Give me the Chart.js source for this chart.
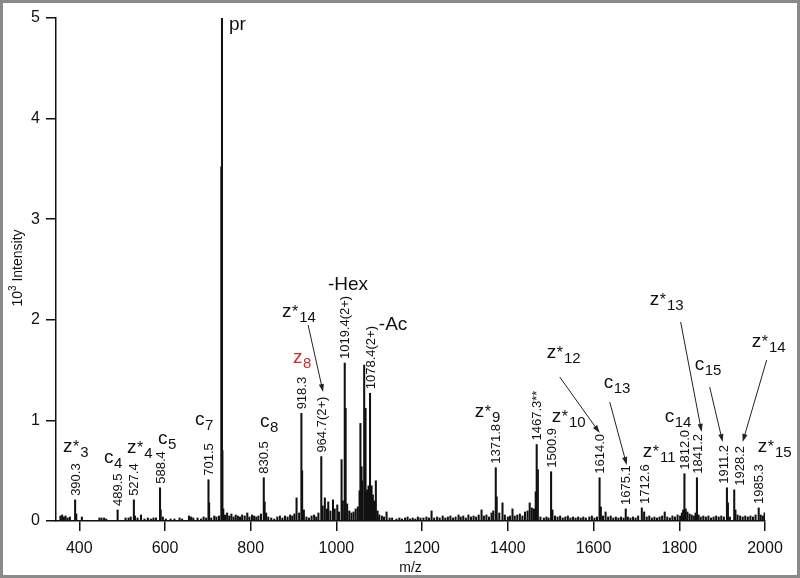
<!DOCTYPE html>
<html>
<head>
<meta charset="utf-8">
<script src="https://cdn.jsdelivr.net/npm/chart.js@4.4.1/dist/chart.umd.min.js"></script>
<style>
    html, body { margin: 0; padding: 0; background: #fff; }
</style>
</head>
<body>
<canvas id="spectrumChart" width="800" height="578"></canvas>
<script>
// Axis ticks
const xTicks = [400, 600, 800, 1000, 1200, 1400, 1600, 1800, 2000];
const yTicks = [0, 1, 2, 3, 4, 5];

// Labelled peaks (m/z, 10^3 intensity, printed label)
const labelledMz = [390.3, 489.5, 527.4, 588.4, 701.5, 830.5, 918.3, 964.7, 1019.4, 1078.4,
    1371.8, 1467.3, 1500.9, 1614.0, 1675.1, 1712.6, 1812.0, 1841.2, 1911.2, 1928.2, 1985.3];
const labelledIntensity = [0.21, 0.11, 0.21, 0.33, 0.41, 0.43, 1.07, 0.64, 1.57, 1.27,
    0.53, 0.76, 0.49, 0.43, 0.12, 0.13, 0.47, 0.43, 0.33, 0.31, 0.13];
const labelledText = ['390.3', '489.5', '527.4', '588.4', '701.5', '830.5', '918.3', '964.7(2+)', '1019.4(2+)', '1078.4(2+)',
    '1371.8', '1467.3**', '1500.9', '1614.0', '1675.1', '1712.6', '1812.0', '1841.2', '1911.2', '1928.2', '1985.3'];

// Precursor
const precursorMz = [731.5, 733.0, 734.0];
const precursorIntensity = [3.52, 5.0, 0.70];

// Other (unlabelled) peaks
const otherMz = [356, 360, 364, 368, 373, 378, 393, 406, 447, 452, 458, 463, 508, 515, 520, 530, 536, 544, 552, 560,
    567, 573, 579, 590, 595, 602, 613, 622, 634, 640, 656, 661, 666, 676, 684, 690, 696, 703, 708, 715,
    720, 726, 736, 740, 745, 750, 755, 760, 765, 770, 775, 780, 786, 792, 797, 803, 808, 813, 818, 824,
    832.5, 836, 841, 848, 855, 862, 868, 874, 880, 886, 892, 897, 902, 907, 913, 920, 924, 930, 936, 942,
    948, 953, 958, 968, 973, 978, 981, 986, 992, 996, 1002, 1006, 1012, 1015, 1021.5, 1025, 1030, 1035, 1040, 1045,
    1050, 1054, 1056, 1058.6, 1060, 1064.8, 1068, 1070, 1072, 1075, 1082, 1085, 1088, 1092, 1096, 1100, 1106, 1111, 1117, 1124,
    1130, 1140, 1147, 1153, 1160, 1166, 1172, 1178, 1184, 1190, 1196, 1203, 1210, 1216, 1222, 1228, 1235, 1241, 1248, 1254,
    1260, 1266, 1272, 1278, 1285, 1290, 1296, 1302, 1308, 1314, 1320, 1326, 1332, 1338.6, 1344, 1350, 1356, 1362, 1366, 1374,
    1380, 1387.5, 1393, 1400, 1405, 1410.8, 1416, 1422, 1428, 1434, 1440, 1446, 1451, 1456, 1461, 1465, 1470, 1476, 1484, 1490,
    1495, 1504, 1510, 1516, 1522, 1528, 1534, 1540, 1546, 1552, 1558, 1564, 1570, 1576, 1582, 1590, 1596, 1602, 1608, 1617,
    1622, 1628, 1634, 1640, 1646, 1652, 1658, 1664, 1670, 1680, 1686, 1692, 1698, 1704, 1718, 1724, 1730, 1736, 1742, 1748,
    1754, 1760, 1766, 1772, 1778, 1784, 1790, 1796, 1802, 1806, 1809, 1815, 1819, 1824, 1829, 1834, 1838, 1845, 1850, 1856,
    1862, 1868, 1874, 1880, 1886, 1892, 1898, 1904, 1913.5, 1918, 1931, 1936, 1942, 1948, 1954, 1960, 1966, 1972, 1978, 1990,
    1995, 1999];
const otherIntensity = [0.05, 0.06, 0.04, 0.05, 0.03, 0.04, 0.07, 0.04, 0.03, 0.03, 0.03, 0.02, 0.03, 0.03, 0.04, 0.05, 0.03, 0.06, 0.02, 0.03,
    0.02, 0.03, 0.03, 0.11, 0.04, 0.02, 0.02, 0.02, 0.03, 0.02, 0.05, 0.04, 0.03, 0.03, 0.02, 0.04, 0.03, 0.18, 0.03, 0.05,
    0.04, 0.05, 0.12, 0.06, 0.08, 0.05, 0.07, 0.04, 0.06, 0.05, 0.04, 0.06, 0.05, 0.08, 0.04, 0.06, 0.05, 0.04, 0.05, 0.07,
    0.19, 0.08, 0.04, 0.03, 0.02, 0.04, 0.05, 0.03, 0.05, 0.04, 0.06, 0.05, 0.07, 0.23, 0.08, 0.50, 0.11, 0.04, 0.03, 0.05,
    0.06, 0.04, 0.08, 0.15, 0.23, 0.12, 0.19, 0.10, 0.21, 0.12, 0.16, 0.09, 0.61, 0.20, 1.12, 0.17, 0.10, 0.08, 0.09, 0.12,
    0.14, 0.30, 0.97, 0.54, 0.40, 1.55, 1.12, 0.28, 0.31, 0.35, 0.35, 0.26, 0.20, 0.40, 0.10, 0.06, 0.05, 0.04, 0.09, 0.03,
    0.03, 0.02, 0.03, 0.02, 0.03, 0.04, 0.02, 0.03, 0.02, 0.04, 0.03, 0.03, 0.04, 0.03, 0.10, 0.03, 0.04, 0.03, 0.05, 0.03,
    0.04, 0.05, 0.03, 0.04, 0.06, 0.04, 0.05, 0.03, 0.06, 0.04, 0.05, 0.04, 0.06, 0.11, 0.05, 0.06, 0.04, 0.08, 0.10, 0.24,
    0.08, 0.18, 0.06, 0.04, 0.05, 0.12, 0.05, 0.06, 0.07, 0.05, 0.09, 0.10, 0.18, 0.13, 0.12, 0.29, 0.51, 0.04, 0.03, 0.04,
    0.03, 0.11, 0.05, 0.04, 0.05, 0.03, 0.04, 0.05, 0.03, 0.04, 0.03, 0.04, 0.03, 0.04, 0.03, 0.04, 0.05, 0.03, 0.04, 0.14,
    0.05, 0.09, 0.04, 0.05, 0.03, 0.04, 0.03, 0.04, 0.03, 0.04, 0.03, 0.04, 0.03, 0.05, 0.09, 0.04, 0.05, 0.03, 0.04, 0.03,
    0.04, 0.05, 0.09, 0.04, 0.03, 0.05, 0.04, 0.06, 0.05, 0.08, 0.11, 0.12, 0.09, 0.07, 0.06, 0.05, 0.08, 0.06, 0.04, 0.05,
    0.04, 0.05, 0.03, 0.04, 0.05, 0.04, 0.05, 0.04, 0.18, 0.04, 0.11, 0.06, 0.05, 0.04, 0.05, 0.04, 0.05, 0.04, 0.06, 0.06,
    0.05, 0.08];

// Sideways shift (px) of each rotated m/z label relative to its peak
const labelNudge = [0, 0, 0, 0, 0, 0, 0, 0, 0, 0,
    0, 0, 0, 0, 0, 2.5, 0, 0, -3.5, 5, 0];

// Fragment ion annotations, anchored in data units (m/z, intensity) at the text baseline
const ionLabels = [
    { main: 'pr', x: 749.2, y: 4.88 },
    { main: 'z', star: true, sub: '3', x: 362.0, y: 0.686 },
    { main: 'c', sub: '4', x: 457.6, y: 0.577 },
    { main: 'z', star: true, sub: '4', x: 511.2, y: 0.676 },
    { main: 'c', sub: '5', x: 583.6, y: 0.765 },
    { main: 'c', sub: '7', x: 669.9, y: 0.954 },
    { main: 'c', sub: '8', x: 821.5, y: 0.934 },
    { main: 'z', sub: '8', x: 898.4, y: 1.571, color: '#d42a2a' },
    { main: 'z', star: true, sub: '14', x: 872.8, y: 2.028 },
    { main: '-Hex', x: 980.1, y: 2.296 },
    { main: '-Ac', x: 1099.0, y: 1.899 },
    { main: 'z', star: true, sub: '9', x: 1322.9, y: 1.034 },
    { main: 'z', star: true, sub: '10', x: 1502.5, y: 0.984 },
    { main: 'z', star: true, sub: '12', x: 1490.8, y: 1.620 },
    { main: 'c', sub: '13', x: 1623.8, y: 1.322 },
    { main: 'z', star: true, sub: '11', x: 1714.8, y: 0.636 },
    { main: 'c', sub: '14', x: 1766.1, y: 0.984 },
    { main: 'z', star: true, sub: '13', x: 1731.1, y: 2.147 },
    { main: 'c', sub: '15', x: 1836.0, y: 1.501 },
    { main: 'z', star: true, sub: '14', x: 1969.0, y: 1.730 },
    { main: 'z', star: true, sub: '15', x: 1983.0, y: 0.686 }
];

// Arrows from ion labels to their peaks (data units)
const arrows = [
    [933.9, 1.948, 968.9, 1.282],
    [1521.1, 1.431, 1614.4, 0.875],
    [1637.7, 1.183, 1677.4, 0.557],
    [1803.2, 1.978, 1852.2, 0.885],
    [1870.9, 1.332, 1901.2, 0.785],
    [2003.9, 1.600, 1947.9, 0.785]
];

const FONT = "'Liberation Sans', Arial, Helvetica, sans-serif";

// Build the stick spectrum from the arrays
const peaks = [];
labelledMz.forEach((mz, i) => peaks.push({ x: mz, y: labelledIntensity[i] }));
precursorMz.forEach((mz, i) => peaks.push({ x: mz, y: precursorIntensity[i] }));
otherMz.forEach((mz, i) => peaks.push({ x: mz, y: otherIntensity[i] }));
peaks.sort((a, b) => a.x - b.x);

function drawIonLabel(ctx, px, py, a) {
    ctx.fillStyle = a.color || '#111';
    ctx.textAlign = 'left';
    ctx.textBaseline = 'alphabetic';
    ctx.font = `19px ${FONT}`;
    ctx.fillText(a.main, px, py);
    let cx = px + ctx.measureText(a.main).width;
    if (a.star) {
        ctx.font = `16px ${FONT}`;
        ctx.fillText('*', cx + 0.5, py);
        cx += ctx.measureText('*').width + 1;
    }
    if (a.sub) {
        ctx.font = `15px ${FONT}`;
        ctx.fillText(a.sub, cx + 0.5, py + 5);
    }
}

function drawArrow(ctx, x1, y1, x2, y2) {
    const ang = Math.atan2(y2 - y1, x2 - x1);
    const len = 8, half = 2.6;
    ctx.strokeStyle = '#222';
    ctx.fillStyle = '#222';
    ctx.lineWidth = 1;
    ctx.beginPath();
    ctx.moveTo(x1, y1);
    ctx.lineTo(x2 - Math.cos(ang) * len * 0.7, y2 - Math.sin(ang) * len * 0.7);
    ctx.stroke();
    ctx.beginPath();
    ctx.moveTo(x2, y2);
    ctx.lineTo(x2 - Math.cos(ang) * len - Math.sin(ang) * half, y2 - Math.sin(ang) * len + Math.cos(ang) * half);
    ctx.lineTo(x2 - Math.cos(ang) * len + Math.sin(ang) * half, y2 - Math.sin(ang) * len - Math.cos(ang) * half);
    ctx.closePath();
    ctx.fill();
}

const annotationPlugin = {
    id: 'spectrumAnnotations',
    afterDraw(chart) {
        const ctx = chart.ctx;
        const xs = chart.scales.x;
        const ys = chart.scales.y;
        ctx.save();

        // m/z values above the labelled peaks
        ctx.fillStyle = '#111';
        ctx.font = `13px ${FONT}`;
        labelledMz.forEach((mz, i) => {
            const px = xs.getPixelForValue(mz);
            const py = ys.getPixelForValue(labelledIntensity[i]);
            ctx.save();
            ctx.translate(px + 1 + labelNudge[i], py - 4);
            ctx.rotate(-Math.PI / 2);
            ctx.textAlign = 'left';
            ctx.textBaseline = 'middle';
            ctx.fillText(labelledText[i], 0, 0);
            ctx.restore();
        });

        ionLabels.forEach(a => {
            drawIonLabel(ctx, xs.getPixelForValue(a.x), ys.getPixelForValue(a.y), a);
        });

        arrows.forEach(a => {
            drawArrow(ctx, xs.getPixelForValue(a[0]), ys.getPixelForValue(a[1]),
                xs.getPixelForValue(a[2]), ys.getPixelForValue(a[3]));
        });

        // y axis title with superscript
        ctx.save();
        ctx.translate(22, 268);
        ctx.rotate(-Math.PI / 2);
        ctx.fillStyle = '#111';
        ctx.textBaseline = 'alphabetic';
        ctx.textAlign = 'left';
        ctx.font = `14px ${FONT}`;
        const w1 = ctx.measureText('10').width;
        const w3 = ctx.measureText(' Intensity').width;
        ctx.font = `10px ${FONT}`;
        const w2 = ctx.measureText('3').width;
        let tx = -(w1 + w2 + w3) / 2;
        ctx.font = `14px ${FONT}`;
        ctx.fillText('10', tx, 0);
        ctx.font = `10px ${FONT}`;
        ctx.fillText('3', tx + w1, -6);
        ctx.font = `14px ${FONT}`;
        ctx.fillText(' Intensity', tx + w1 + w2, 0);
        ctx.restore();

        // picture frame
        ctx.strokeStyle = '#8a8a8a';
        ctx.lineWidth = 3;
        ctx.strokeRect(1.5, 1.5, chart.width - 3, chart.height - 3);
        ctx.restore();
    }
};

const ctx = document.getElementById('spectrumChart').getContext('2d');
new Chart(ctx, {
    type: 'bar',
    data: {
        datasets: [{
            data: peaks,
            backgroundColor: '#111',
            borderWidth: 0,
            barThickness: 1.4,
            grouped: false
        }]
    },
    options: {
        responsive: false,
        animation: false,
        layout: { padding: { left: 0, top: 18, right: 35, bottom: 0 } },
        plugins: {
            legend: { display: false },
            tooltip: { enabled: false }
        },
        scales: {
            x: {
                type: 'linear',
                min: 345.7,
                max: 2000,
                offset: false,
                afterBuildTicks: scale => { scale.ticks = xTicks.map(v => ({ value: v })); },
                afterFit: scale => { scale.height = 57; },
                grid: { display: true, offset: false, drawOnChartArea: false, drawTicks: true, tickLength: 10, color: '#111', lineWidth: 1.5 },
                border: { display: true, color: '#111', width: 1.5 },
                ticks: { color: '#111', font: { family: FONT, size: 16 }, padding: 8, maxRotation: 0, callback: v => String(v) },
                title: { display: true, text: 'm/z', color: '#111', font: { family: FONT, size: 14 }, padding: { top: 0, bottom: 1 } }
            },
            y: {
                min: 0,
                max: 5,
                afterBuildTicks: scale => { scale.ticks = yTicks.map(v => ({ value: v })); },
                afterFit: scale => { scale.width = 56; },
                grid: { display: true, drawOnChartArea: false, drawTicks: true, tickLength: 10, color: '#111', lineWidth: 1.5 },
                border: { display: true, color: '#111', width: 1.5 },
                ticks: { color: '#111', font: { family: FONT, size: 16 }, padding: 6, callback: v => String(v) }
            }
        }
    },
    plugins: [annotationPlugin]
});
</script>
</body>
</html>
